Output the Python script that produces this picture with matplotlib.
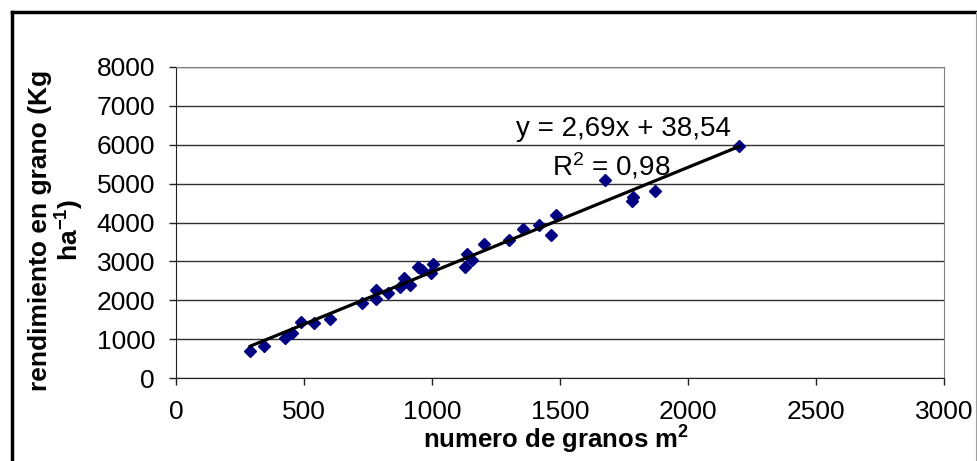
import numpy as np
import matplotlib
matplotlib.use('Agg')
import matplotlib.pyplot as plt
from matplotlib.lines import Line2D

plt.rcParams['font.family'] = ['Liberation Sans', 'DejaVu Sans']
plt.rcParams['mathtext.default'] = 'regular'

# Datos
granos = [290, 345, 425, 455, 490, 540, 600, 725, 780, 780, 830, 875, 890, 915,
          945, 960, 995, 1005, 1130, 1135, 1155, 1205, 1300, 1355, 1420, 1465,
          1485, 1675, 1780, 1785, 1870, 2200]
rendimiento = [700, 830, 1030, 1150, 1430, 1410, 1510, 1930, 2260, 2030, 2190,
               2340, 2580, 2390, 2850, 2780, 2700, 2940, 2850, 3200, 3030, 3450,
               3540, 3830, 3940, 3680, 4200, 5090, 4560, 4650, 4800, 5960]

# Recta de tendencia
pendiente = 2.69
ordenada = 38.54
r2 = 0.98

fig = plt.figure(figsize=(9.77, 4.61), dpi=100)
ax = fig.add_axes([0.1801, 0.18, 0.7861, 0.6747])

ax.set_xlim(0, 3000)
ax.set_ylim(0, 8000)
ax.set_xticks(np.arange(0, 3001, 500))
ax.set_yticks(np.arange(0, 8001, 1000))
ax.grid(axis='y', color='#303030', linewidth=1)
ax.set_axisbelow(True)

ax.plot(granos, rendimiento, 'D', color='#000080', markersize=6.5, zorder=3)

xl = np.array([min(granos), max(granos)])
ax.plot(xl, pendiente * xl + ordenada, color='black', linewidth=2.3, zorder=4)

for s in ['top', 'right']:
    ax.spines[s].set_color('#808080')
for s in ['left', 'bottom']:
    ax.spines[s].set_color('#202020')
ax.tick_params(direction='out', length=5, width=1, color='#202020',
               labelsize=19, pad=10)
ax.tick_params(axis='x', pad=11)

ax.text(0.583, 0.8, 'y = ' + ('%.2f' % pendiente).replace('.', ',') + 'x + '
        + ('%.2f' % ordenada).replace('.', ','),
        transform=ax.transAxes, ha='center', va='center', fontsize=20)
ax.text(0.567, 0.68, 'R$^2$ = ' + ('%.2f' % r2).replace('.', ','),
        transform=ax.transAxes, ha='center', va='center', fontsize=20)

ax.set_ylabel('rendimiento en grano (Kg\nha$^{-1}$)', fontsize=19,
              fontweight='bold', linespacing=1.05, ha='center', va='center')
ax.yaxis.set_label_coords(-0.155, 0.475)
ax.set_xlabel('numero de granos m$^2$', fontsize=18.5, fontweight='bold')
ax.xaxis.set_label_coords(0.495, -0.2)
ax.xaxis.label.set_verticalalignment('center')

# Borde exterior
fig.add_artist(Line2D([12 / 977, 12 / 977], [0, 1 - 12 / 461], color='black',
                      linewidth=2.5, transform=fig.transFigure))
fig.add_artist(Line2D([12 / 977, 1], [1 - 12 / 461, 1 - 12 / 461],
                      color='black', linewidth=2.5, transform=fig.transFigure))
fig.add_artist(Line2D([975.5 / 977, 975.5 / 977], [0, 1 - 12 / 461],
                      color='#a0a0a0', linewidth=0.8, transform=fig.transFigure))

fig.savefig('out.png', dpi=100)
